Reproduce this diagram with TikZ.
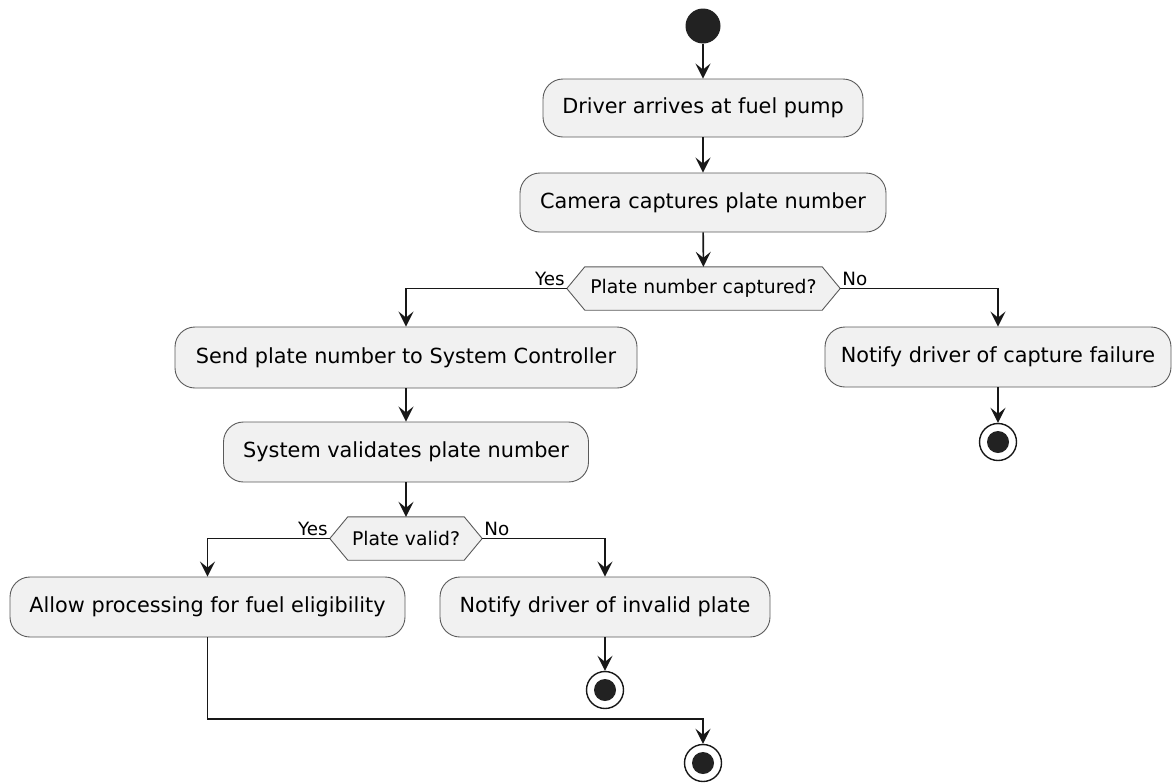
\documentclass[tikz,border=0pt]{standalone}
\usepackage{fontspec}
\setmainfont{DejaVu Sans}
\usetikzlibrary{arrows.meta,backgrounds}

\definecolor{boxfill}{HTML}{F1F1F1}
\definecolor{boxline}{HTML}{5A5A5A}
\definecolor{ink}{HTML}{181818}
\definecolor{dot}{HTML}{222222}

\tikzset{
  action/.style={draw=boxline, line width=0.9pt, fill=boxfill, rounded corners=20pt,
    inner sep=0pt, font=\fontsize{20.8}{24}\selectfont, text=black},
  decision/.style={inner sep=0pt, font=\fontsize{18.8}{22}\selectfont, text=black},
  hexshape/.style={draw=boxline, line width=0.9pt, fill=boxfill},
  branchlabel/.style={inner sep=0pt, font=\fontsize{18.3}{22}\selectfont, text=black},
  startdot/.style={circle, fill=dot, minimum size=35pt, inner sep=0pt},
  enddot/.style={circle, draw=ink, line width=1.4pt, fill=white, minimum size=37pt, inner sep=0pt,
    path picture={\fill[dot] (path picture bounding box.center) circle (11pt);}},
  flow/.style={draw=ink, line width=1.6pt,
    -{Stealth[length=15pt, width=15pt, inset=6pt]}},
}

% Hexagon drawn behind a decision node
\newcommand{\hexagonbehind}[1]{%
  \begin{scope}[on background layer]
    \path[hexshape] ([xshift=18pt]#1.north west) -- ([xshift=-18pt]#1.north east)
      -- (#1.east) -- ([xshift=-18pt]#1.south east) -- ([xshift=18pt]#1.south west)
      -- (#1.west) -- cycle;
  \end{scope}}

\begin{document}
\begin{tikzpicture}[x=1pt, y=-1pt]
\useasboundingbox (0,0) rectangle (1172,782);

% main column
\node[startdot] (start) at (703,26) {};
\node[action, minimum width=320pt, minimum height=58pt] (arrive) at (703,108) {Driver arrives at fuel pump};
\node[action, minimum width=366pt, minimum height=59pt] (capture) at (703,202.5) {Camera captures plate number};
\node[decision, minimum width=273pt, minimum height=43pt] (captured) at (703.5,288.5) {Plate number captured?};
\hexagonbehind{captured}

% capture failed branch
\node[action, minimum width=346pt, minimum height=60pt] (fail) at (998,357) {Notify driver of capture failure};
\node[enddot] (endfail) at (998,442) {};

% capture succeeded branch
\node[action, minimum width=462pt, minimum height=61pt] (send) at (406,357.5) {Send plate number to System Controller};
\node[action, minimum width=365pt, minimum height=60pt] (validate) at (406,452) {System validates plate number};
\node[decision, minimum width=152pt, minimum height=43pt] (valid) at (406,538.5) {Plate valid?};
\hexagonbehind{valid}

\node[action, minimum width=395pt, minimum height=60pt] (allow) at (207.5,607) {Allow processing for fuel eligibility};
\node[action, minimum width=330pt, minimum height=60pt] (invalid) at (605,607) {Notify driver of invalid plate};
\node[enddot] (endinvalid) at (605,690) {};
\node[enddot] (endmain) at (703,763) {};

% branch labels
\node[branchlabel, anchor=base east] (yes1) at ([xshift=-2pt, yshift=3pt]captured.west) {Yes};
\node[branchlabel, anchor=base west] (no1) at ([xshift=2pt, yshift=3pt]captured.east) {No};
\node[branchlabel, anchor=base east] (yes2) at ([xshift=-2pt, yshift=3pt]valid.west) {Yes};
\node[branchlabel, anchor=base west] (no2) at ([xshift=2pt, yshift=3pt]valid.east) {No};

% connectors
\draw[flow] (start) -- (arrive);
\draw[flow] (arrive) -- (capture);
\draw[flow] (capture) -- (captured);
\draw[flow] (captured.west) -| (send.north);
\draw[flow] (captured.east) -| (fail.north);
\draw[flow] (fail) -- (endfail);
\draw[flow] (send) -- (validate);
\draw[flow] (validate) -- (valid);
\draw[flow] (valid.west) -| (allow.north);
\draw[flow] (valid.east) -| (invalid.north);
\draw[flow] (invalid) -- (endinvalid);
\draw[flow] (allow.south) |- ([yshift=25pt]endmain.north) -- (endmain.north);
\end{tikzpicture}
\end{document}
